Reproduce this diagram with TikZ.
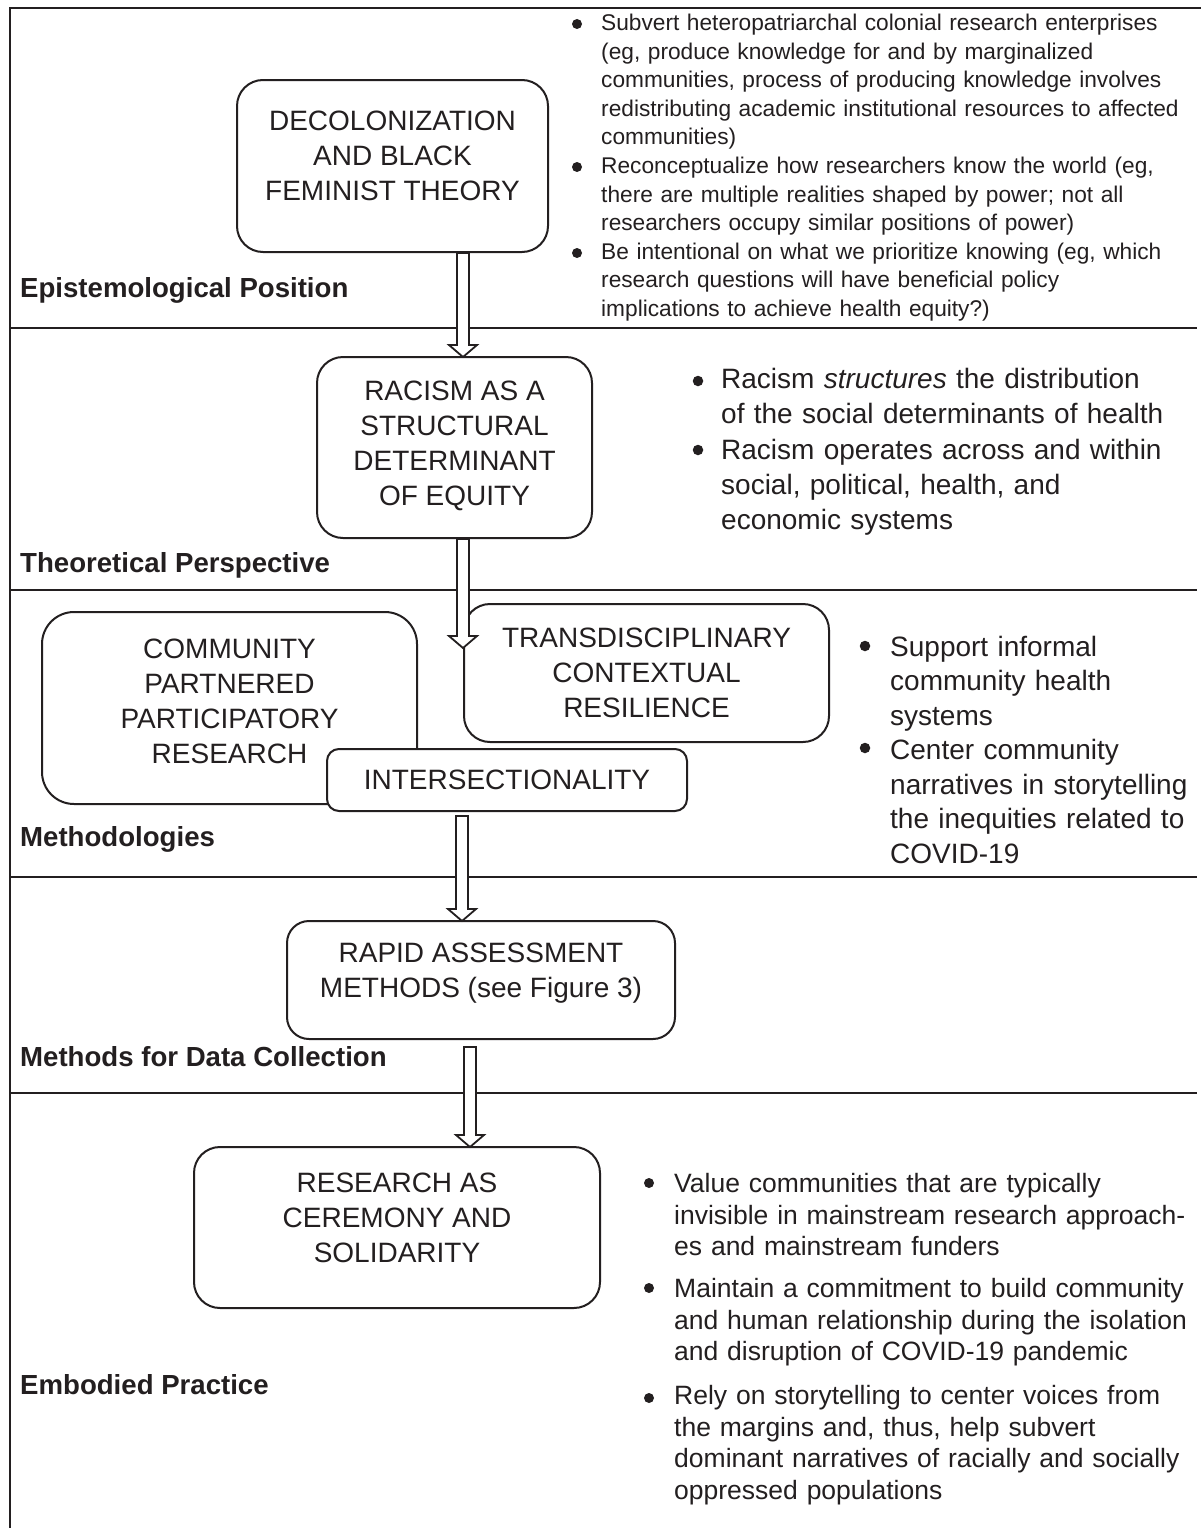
\documentclass[tikz,border=0pt]{standalone}
\usepackage{fontspec}
\setmainfont{Liberation Sans}
\usetikzlibrary{calc}
\definecolor{ink}{HTML}{231F20}
\newcommand\hollowarrow[2]{%
  \path[harrow] let \p1=(#1), \p2=(#2) in
    (\x1-6pt,\y1) -- (\x1-6pt,\y2+12pt) -- (\x1-14pt,\y2+12pt) -- (\x1,\y2)
    -- (\x1+14pt,\y2+12pt) -- (\x1+6pt,\y2+12pt) -- (\x1+6pt,\y1) -- cycle;}
\begin{document}
\begin{tikzpicture}[x=1pt,y=-1pt,
  frame/.style={draw=ink, line width=2.4pt},
  box/.style={draw=ink, line width=2pt, fill=white, rounded corners=26pt, inner sep=0pt, outer sep=0pt},
  boxtext/.style={text=ink, align=center, font=\fontsize{28}{35}\selectfont, inner sep=0pt},
  lab/.style={text=ink, font=\bfseries\fontsize{27.6}{33}\selectfont, anchor=base west, inner sep=0pt},
  btext/.style={text=ink, anchor=base west, inner sep=0pt, align=left},
  dot/.style={circle, fill=ink, inner sep=0pt, minimum size=10pt},
  harrow/.style={draw=ink, fill=white, line width=1.8pt, line join=miter}]
\useasboundingbox (0,0) rectangle (1201,1528);
\fill[white] (0,0) rectangle (1201,1528);
% frame and separators
\coordinate (tl) at (10,8); \coordinate (tr) at (1201,8); \coordinate (bl) at (10,1528);
\draw[frame, line width=2.8pt] (tr) -- (tl) -- (bl);
\draw[frame] (10,328) -- (1197,328);
\draw[frame] (10,590) -- (1197,590);
\draw[frame] (10,877) -- (1197,877);
\draw[frame] (10,1093) -- (1197,1093);
% labels
\node[lab] (l1) at (20,297) {Epistemological Position};
\node[lab] (l2) at (20,572) {Theoretical Perspective};
\node[lab] (l3) at (20,846) {Methodologies};
\node[lab] (l4) at (20,1066) {Methods for Data Collection};
\node[lab] (l5) at (20,1394) {Embodied Practice};
% boxes
\node[box, minimum width=311, minimum height=172] (b1) at (392.5,166) {};
\node[boxtext] (b1t) at (392.5,156) {DECOLONIZATION\\AND BLACK\\FEMINIST THEORY};
\node[box, minimum width=275, minimum height=181] (b2) at (454.5,447.5) {};
\node[boxtext] (b2t) at (454.5,446) {RACISM AS A\\STRUCTURAL\\DETERMINANT\\OF EQUITY};
\node[box, rounded corners=32pt, minimum width=375, minimum height=192] (b3) at (229.5,708) {};
\node[boxtext] (b3t) at (229.5,701) {COMMUNITY\\PARTNERED\\PARTICIPATORY\\RESEARCH};
\node[box, minimum width=365, minimum height=138] (b4) at (646.5,673) {};
\node[boxtext] (b4t) at (646.5,672.5) {TRANSDISCIPLINARY\\CONTEXTUAL\\RESILIENCE};
\node[box, rounded corners=12pt, minimum width=360, minimum height=62] (b5) at (507,780) {};
\node[boxtext] (b5t) at (507,780) {INTERSECTIONALITY};
\node[box, rounded corners=22pt, minimum width=388, minimum height=118] (b6) at (481,980) {};
\node[boxtext] (b6t) at (481,973) {RAPID ASSESSMENT\\METHODS (see Figure 3)};
\node[box, minimum width=406, minimum height=161] (b7) at (397,1227.5) {};
\node[boxtext] (b7t) at (397,1218) {RESEARCH AS\\CEREMONY AND\\SOLIDARITY};
% bullets section 1
\begin{scope}[every node/.append style={font=\fontsize{22.7}{28.5}\selectfont}]
\node[dot] (d1a) at (577,24) {};
\node[btext, text width=600] (t1a) at (601,31) {Subvert heteropatriarchal colonial research enterprises\\(eg, produce knowledge for and by marginalized\\communities, process of producing knowledge involves\\redistributing academic institutional resources to affected\\communities)};
\node[dot] (d1b) at (577,167) {};
\node[btext, text width=600] (t1b) at (601,173.5) {Reconceptualize how researchers know the world (eg,\\there are multiple realities shaped by power; not all\\researchers occupy similar positions of power)};
\node[dot] (d1c) at (577,253) {};
\node[btext, text width=600] (t1c) at (601,259) {Be intentional on what we prioritize knowing (eg, which\\research questions will have beneficial policy\\implications to achieve health equity?)};
\end{scope}
% bullets section 2
\begin{scope}[every node/.append style={font=\fontsize{28}{35}\selectfont}]
\node[dot, minimum size=10.5pt] (d2a) at (698,381) {};
\node[btext, text width=480] (t2a) at (721,388) {Racism \textit{structures} the distribution\\of the social determinants of health};
\node[dot, minimum size=10.5pt] (d2b) at (698,450) {};
\node[btext, text width=480] (t2b) at (721,459) {Racism operates across and within\\social, political, health, and\\economic systems};
\end{scope}
% bullets section 3
\begin{scope}[every node/.append style={font=\fontsize{28}{34.5}\selectfont}]
\node[dot, minimum size=10.5pt] (d3a) at (865,646) {};
\node[btext, text width=330] (t3a) at (890,656) {Support informal\\community health\\systems};
\node[dot, minimum size=10.5pt] (d3b) at (865,748) {};
\node[btext, text width=330] (t3b) at (890,759.5) {Center community\\narratives in storytelling\\the inequities related to\\COVID-19};
\end{scope}
% bullets section 5
\begin{scope}[every node/.append style={font=\fontsize{26.5}{31.7}\selectfont}]
\node[dot] (d5a) at (649,1183) {};
\node[btext, text width=540] (t5a) at (674,1192.5) {Value communities that are typically\\invisible in mainstream research approach-\\es and mainstream funders};
\node[dot] (d5b) at (649,1288) {};
\node[btext, text width=540] (t5b) at (674,1297.5) {Maintain a commitment to build community\\and human relationship during the isolation\\and disruption of COVID-19 pandemic};
\node[dot] (d5c) at (649,1398) {};
\node[btext, text width=540] (t5c) at (674,1404.5) {Rely on storytelling to center voices from\\the margins and, thus, help subvert\\dominant narratives of racially and socially\\oppressed populations};
\end{scope}
% arrows
\coordinate (ax1) at (463,0);
\coordinate (ax3) at (462,0);
\coordinate (ax4) at (470,0);
\coordinate (a2tip) at (463,648);
\hollowarrow{$(ax1 |- b1.south)+(0,1)$}{ax1 |- b2.north}
\hollowarrow{$(ax1 |- b2.south)+(0,1)$}{a2tip}
\hollowarrow{$(ax3 |- b5.south)+(0,5)$}{ax3 |- b6.north}
\hollowarrow{$(ax4 |- b6.south)+(0,8)$}{ax4 |- b7.north}
\end{tikzpicture}
\end{document}
